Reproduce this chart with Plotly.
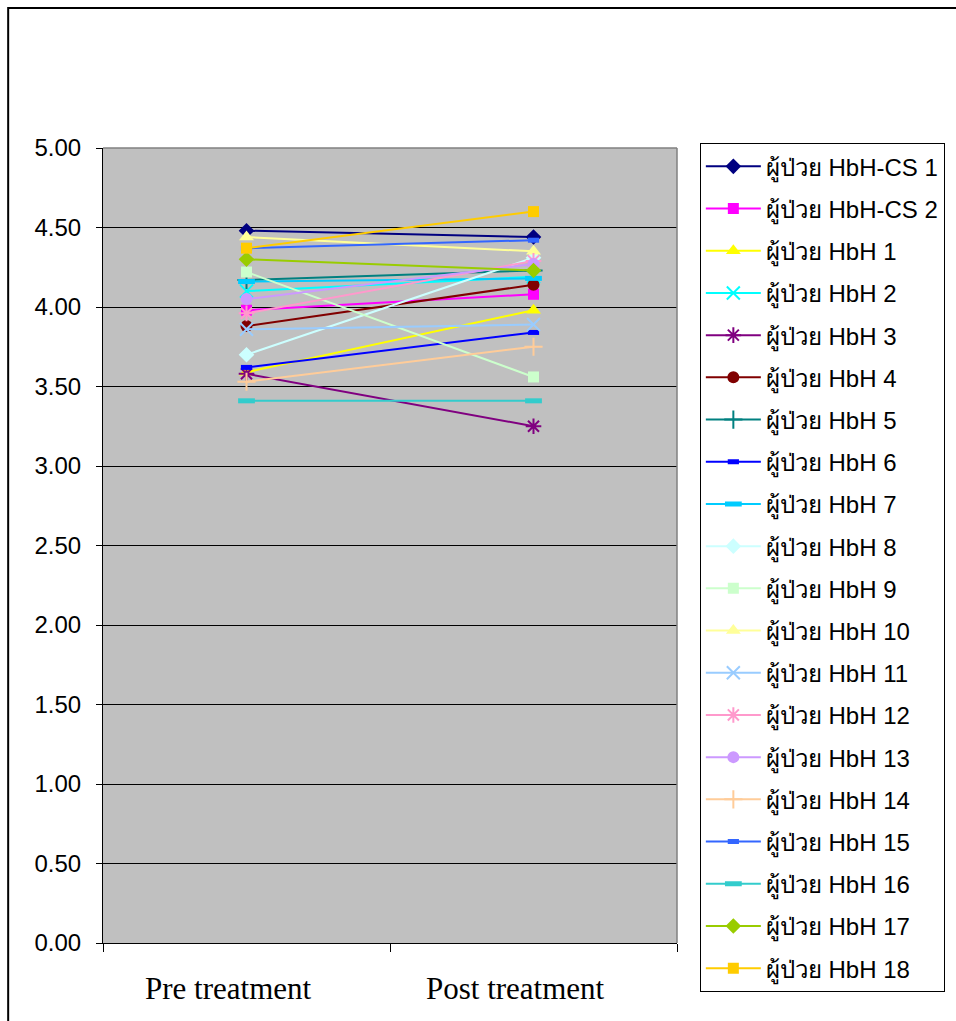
import plotly.graph_objects as go

categories = ["Pre treatment", "Post treatment"]

names = ["ผู้ป่วย HbH-CS 1", "ผู้ป่วย HbH-CS 2", "ผู้ป่วย HbH 1", "ผู้ป่วย HbH 2",
         "ผู้ป่วย HbH 3", "ผู้ป่วย HbH 4", "ผู้ป่วย HbH 5", "ผู้ป่วย HbH 6",
         "ผู้ป่วย HbH 7", "ผู้ป่วย HbH 8", "ผู้ป่วย HbH 9", "ผู้ป่วย HbH 10",
         "ผู้ป่วย HbH 11", "ผู้ป่วย HbH 12", "ผู้ป่วย HbH 13", "ผู้ป่วย HbH 14",
         "ผู้ป่วย HbH 15", "ผู้ป่วย HbH 16", "ผู้ป่วย HbH 17", "ผู้ป่วย HbH 18"]

pre_values = [4.48, 3.98, 3.59, 4.10, 3.58, 3.88, 4.17, 3.62,
              4.16, 3.70, 4.22, 4.44, 3.86, 3.96, 4.05, 3.53,
              4.37, 3.41, 4.30, 4.37]
post_values = [4.44, 4.08, 3.98, 4.19, 3.25, 4.14, 4.23, 3.84,
               4.18, 4.31, 3.56, 4.35, 3.89, 4.29, 4.27, 3.75,
               4.42, 3.41, 4.23, 4.60]

colors = ["#000080", "#FF00FF", "#FFFF00", "#00FFFF", "#800080", "#800000",
          "#008080", "#0000FF", "#00CCFF", "#CCFFFF", "#CCFFCC", "#FFFF99",
          "#99CCFF", "#FF99CC", "#CC99FF", "#FFCC99", "#3366FF", "#33CCCC",
          "#99CC00", "#FFCC00"]

symbols = ["diamond", "square", "triangle-up", "x-thin-open", "asterisk-open", "circle",
           "cross-thin-open", "line-ew-open", "line-ew-open", "diamond", "square", "triangle-up",
           "x-thin-open", "asterisk-open", "circle", "cross-thin-open", "line-ew-open",
           "line-ew-open", "diamond", "square"]

sizes = [12, 11, 13, 13, 13, 12, 13, 8, 12, 12, 11, 13, 13, 13, 12, 13, 8, 12, 12, 11]

fig = go.Figure()
for i, name in enumerate(names):
    sym = symbols[i]
    open_sym = sym.endswith("-open")
    lw = 2
    if sym == "line-ew-open":
        lw = 5
    fig.add_trace(go.Scatter(
        x=categories,
        y=[pre_values[i], post_values[i]],
        name=name,
        mode="lines+markers",
        legendgroup=f"g{i}",
        line=dict(color=colors[i], width=2),
        marker=dict(symbol=sym, size=sizes[i], color=colors[i],
                    line=dict(color=colors[i], width=lw if open_sym else 0)),
    ))

# category labels, drawn as text slightly left of the category centres (as in the original)
annotations = [
    dict(x=c, xref="x", y=0, yref="paper", yanchor="top", yshift=-26, xshift=-18,
         text=c, showarrow=False,
         font=dict(family="Times New Roman, Liberation Serif, serif", size=31, color="black"))
    for c in categories
]

fig.update_layout(
    width=956, height=1021,
    margin=dict(l=103, r=278, t=148, b=78),
    paper_bgcolor="white",
    plot_bgcolor="#C0C0C0",
    showlegend=True,
    legend=dict(
        x=1.038, y=1.006, xanchor="left", yanchor="top",
        bgcolor="white", bordercolor="black", borderwidth=1,
        font=dict(family="Arial, Liberation Sans, Noto Sans, sans-serif", size=24, color="black"),
        tracegroupgap=8,
        itemwidth=55,
        maxheight=1.0,
    ),
    xaxis=dict(
        type="category",
        range=[-0.5, 1.5],
        showgrid=False,
        showline=True, linecolor="black", linewidth=1,
        ticks="outside", ticklen=8, tickcolor="black",
        tickson="boundaries",
        showticklabels=False,
    ),
    yaxis=dict(
        range=[0, 5], dtick=0.5, tickformat=".2f",
        showgrid=True, gridcolor="black", gridwidth=1,
        showline=True, linecolor="black", linewidth=1,
        ticks="outside", ticklen=6, tickcolor="black",
        ticklabelstandoff=10,
        zeroline=False,
        tickfont=dict(family="Arial, Liberation Sans, sans-serif", size=24, color="black"),
    ),
    annotations=annotations,
    shapes=[
        dict(type="rect", xref="paper", yref="paper",
             x0=-0.1652, x1=1.7, y0=-0.15, y1=1.176,
             line=dict(color="black", width=2), layer="below"),
        dict(type="line", xref="paper", yref="paper", x0=0, x1=1, y0=1, y1=1,
             line=dict(color="#808080", width=1.5), layer="above"),
        dict(type="line", xref="paper", yref="paper", x0=1, x1=1, y0=0, y1=1,
             line=dict(color="#808080", width=1.5), layer="above"),
    ],
)

fig.write_html("out.html")
